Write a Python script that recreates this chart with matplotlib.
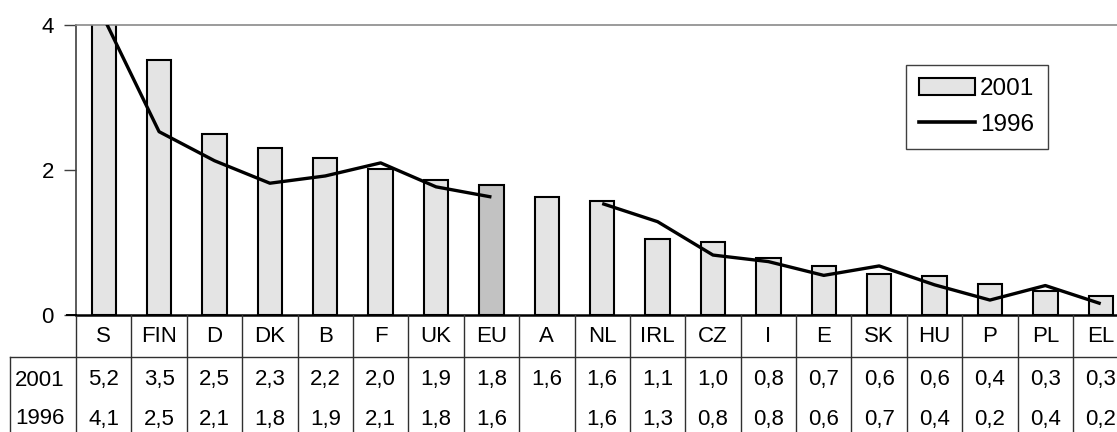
import numpy as np
import matplotlib
matplotlib.use("Agg")
import matplotlib.pyplot as plt
import matplotlib.transforms as mtransforms
from matplotlib.patches import Patch
from matplotlib.lines import Line2D

plt.rcParams['font.family'] = ['Liberation Sans', 'DejaVu Sans']

categories = ["S", "FIN", "D", "DK", "B", "F", "UK", "EU", "A", "NL", "IRL",
              "CZ", "I", "E", "SK", "HU", "P", "PL", "EL"]
values_2001 = [5.2, 3.52, 2.50, 2.31, 2.17, 2.01, 1.86, 1.79, 1.63, 1.58, 1.05,
               1.01, 0.79, 0.68, 0.57, 0.54, 0.43, 0.33, 0.27]
values_1996 = [4.1, 2.53, 2.13, 1.82, 1.92, 2.10, 1.77, 1.63, np.nan, 1.54, 1.29,
               0.83, 0.74, 0.55, 0.68, 0.42, 0.21, 0.41, 0.16]
table_2001 = ["5,2", "3,5", "2,5", "2,3", "2,2", "2,0", "1,9", "1,8", "1,6", "1,6",
              "1,1", "1,0", "0,8", "0,7", "0,6", "0,6", "0,4", "0,3", "0,3"]
table_1996 = ["4,1", "2,5", "2,1", "1,8", "1,9", "2,1", "1,8", "1,6", "", "1,6",
              "1,3", "0,8", "0,8", "0,6", "0,7", "0,4", "0,2", "0,4", "0,2"]
row_labels = ["2001", "1996"]
yticks = [0, 2, 4]

W, H = 1117, 432
fig = plt.figure(figsize=(W / 100, H / 100), dpi=100)

def fx(px):
    return px / W

def fy(py):
    return 1 - py / H

FS = 16

ax_left, ax_right, ax_top, ax_bot = 76, 1117, 25, 315.3
ax = fig.add_axes([fx(ax_left), fy(ax_bot), fx(ax_right - ax_left), (ax_bot - ax_top) / H])

x = np.arange(len(categories))
colors = ['#e4e4e4'] * len(categories)
colors[categories.index("EU")] = '#c2c2c2'
ax.bar(x, values_2001, width=0.44, color=colors, edgecolor='black', linewidth=1.5,
       zorder=2)
ax.plot(x, values_1996, color='black', linewidth=2.4, zorder=3,
        solid_joinstyle='round', solid_capstyle='butt')

col_w = 55.39
ax.set_xlim(-0.5, -0.5 + (ax_right - ax_left) / col_w)
ax.set_ylim(0, 4)
ax.set_yticks(yticks)
ax.set_yticklabels([str(t) for t in yticks], fontsize=FS)
ax.tick_params(axis='y', length=9, width=1, color='#404040', pad=7)
ax.set_xticks([])
ax.spines['right'].set_visible(False)
ax.spines['top'].set_color('#8a8a8a')
ax.spines['top'].set_linewidth(1.2)
ax.spines['left'].set_color('#404040')
ax.spines['left'].set_linewidth(1.2)
ax.spines['bottom'].set_color('black')
ax.spines['bottom'].set_linewidth(1.8)

# table below
trans = mtransforms.blended_transform_factory(ax.transData, fig.transFigure)
line_kw = dict(color='#303030', linewidth=1.0, clip_on=False)
for k in range(len(categories) + 1):
    xb = -0.5 + k
    fig.add_artist(Line2D([xb, xb], [fy(ax_bot), 0], transform=trans, **line_kw))
fig.add_artist(Line2D([fx(67), fx(76)], [fy(ax_bot), fy(ax_bot)],
                      transform=fig.transFigure, color='black', linewidth=1.4))
fig.add_artist(Line2D([fx(10), fx(W)], [fy(357), fy(357)],
                      transform=fig.transFigure, **line_kw))
fig.add_artist(Line2D([fx(10), fx(10)], [fy(357), 0],
                      transform=fig.transFigure, **line_kw))

for i, c in enumerate(categories):
    fig.text(i, fy(336), c, transform=trans, ha='center', va='center', fontsize=FS)
    fig.text(i, fy(380), table_2001[i], transform=trans, ha='center', va='center', fontsize=FS)
    fig.text(i, fy(419), table_1996[i], transform=trans, ha='center', va='center', fontsize=FS)

fig.text(fx(15), fy(380), row_labels[0], ha='left', va='center', fontsize=FS)
fig.text(fx(15), fy(419), row_labels[1], ha='left', va='center', fontsize=FS)

# legend
handles = [Patch(facecolor='#e4e4e4', edgecolor='black', linewidth=1.5),
           Line2D([0], [0], color='black', linewidth=2.6)]
leg = fig.legend(handles, ["2001", "1996"], loc='upper left',
                 bbox_to_anchor=(fx(906), fy(65)), bbox_transform=fig.transFigure,
                 fontsize=17.5, frameon=True, fancybox=False, framealpha=1,
                 edgecolor='#404040', handlelength=2.3, handleheight=0.7,
                 handletextpad=0.2, labelspacing=0.55, borderpad=0.55,
                 borderaxespad=0)
leg.get_frame().set_linewidth(1.0)

fig.savefig("out.png", dpi=100)
